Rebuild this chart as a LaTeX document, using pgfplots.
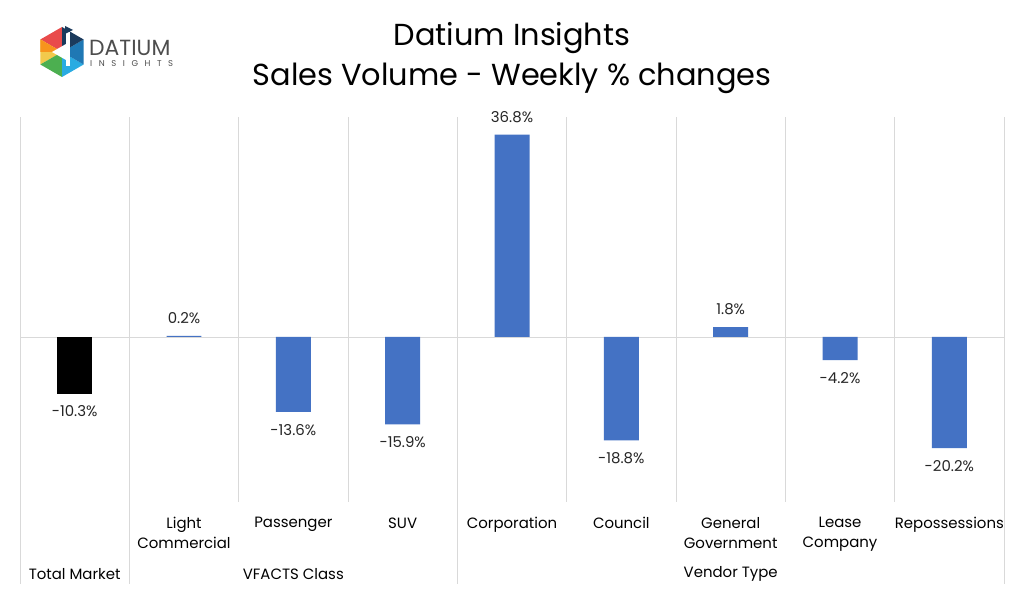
\documentclass[border=0pt]{standalone}
\usepackage{fontspec}
\setmainfont{Poppins}
\usepackage{pgfplots}
\pgfplotsset{compat=1.18}
\definecolor{barblue}{HTML}{4472C4}
\definecolor{gridgray}{HTML}{D9D9D9}
\definecolor{logogray}{HTML}{4D4D4D}
\definecolor{lgA}{HTML}{E94B4B}
\definecolor{lgB}{HTML}{F7941D}
\definecolor{lgC}{HTML}{F2C94C}
\definecolor{lgD}{HTML}{4CAF50}
\definecolor{lgE}{HTML}{29ABE2}
\definecolor{lgF}{HTML}{1F78B4}
\definecolor{lgG}{HTML}{1B3A5C}
\begin{document}
\begin{tikzpicture}[x=1bp,y=1bp]
\path[use as bounding box, fill=white] (0,0) rectangle (1024,594);
% ---- logo ----
\begin{scope}[shift={(62,542)}]
  \fill[lgA] (0,0) -- (90:25) -- (150:25) -- cycle;
  \fill[lgC] (0,0) -- (150:25) -- (210:25) -- cycle;
  \fill[lgB] (0,0) -- (150:25) -- (180:21.6) -- cycle;
  \fill[lgD] (0,0) -- (210:25) -- (270:25) -- cycle;
  \fill[lgE] (0,0) -- (270:25) -- (330:25) -- cycle;
  \fill[lgF] (0,0) -- (330:25) -- (30:25) -- cycle;
  \fill[lgG] (0,0) -- (30:25) -- (90:25) -- cycle;
  \fill[white] (-10,0) -- (4,8) -- (4,-8) -- cycle;
  \fill[white] (4,-14) rectangle (8,20);
  \fill[lgG] (3,26) -- (11,22) -- (3,18) -- cycle;
\end{scope}
\node[anchor=west, inner sep=0pt, text=logogray, font=\fontsize{22}{22}\selectfont] at (89,546) {DATIUM};
\node[anchor=west, inner sep=0pt, text=logogray, font=\fontsize{8.5}{9}\selectfont] at (90,530)
  {\makebox[83bp][s]{I\hfill N\hfill S\hfill I\hfill G\hfill H\hfill T\hfill S}};
% ---- titles ----
\node[font=\fontsize{30.5}{33}\selectfont] at (512,556) {Datium Insights};
\node[font=\fontsize{30.5}{33}\selectfont] at (512,516) {Sales Volume - Weekly \% changes};
% ---- chart ----
\begin{axis}[at={(20bp,92bp)}, anchor=south west, scale only axis,
  width=984bp, height=385bp,
  xmin=-0.5, xmax=8.5, ymin=-30, ymax=40,
  axis line style={draw=none},
  ybar, bar width=0.32, bar shift=0pt,
  xtick={0,...,8},
  xticklabels={{},{Light\\Commercial},Passenger,SUV,Corporation,Council,{General\\Government},{Lease\\Company},Repossessions},
  xticklabel style={align=center, font=\fontsize{15}{20}\selectfont, yshift=-12bp},
  minor xtick={-0.5,0.5,...,8.5},
  xminorgrids=true,
  minor grid style={gridgray, line width=0.8bp},
  ytick={0}, yticklabels={}, ymajorgrids=true,
  major grid style={gridgray, line width=0.8bp},
  major tick length=0pt, minor tick length=0pt,
  clip=false,
  /pgf/number format/assume math mode=true,
  nodes near coords={\pgfmathprintnumber[fixed,fixed zerofill,precision=1]{\pgfplotspointmeta}\%},
  every node near coord/.append style={font=\fontsize{15}{17}\selectfont, text=black!85, inner xsep=2bp, inner ysep=12bp},
]
\addplot[fill=black, draw=none] coordinates {(0,-10.3)};
\addplot[fill=barblue, draw=none] coordinates {(1,0.2) (2,-13.6) (3,-15.9) (4,36.8) (5,-18.8) (6,1.8) (7,-4.2) (8,-20.2)};
\draw[gridgray, line width=0.8bp] (axis cs:-0.5,-30) -- ++(0bp,-82bp);
\draw[gridgray, line width=0.8bp] (axis cs:0.5,-30) -- ++(0bp,-82bp);
\draw[gridgray, line width=0.8bp] (axis cs:3.5,-30) -- ++(0bp,-82bp);
\draw[gridgray, line width=0.8bp] (axis cs:8.5,-30) -- ++(0bp,-82bp);
\node[font=\fontsize{15}{17}\selectfont] at (axis cs:0,-30) [yshift=-72bp] {Total Market};
\node[font=\fontsize{15}{17}\selectfont] at (axis cs:2,-30) [yshift=-72bp] {VFACTS Class};
\node[font=\fontsize{15}{17}\selectfont] at (axis cs:6,-30) [yshift=-72bp] {Vendor Type};
\end{axis}
\end{tikzpicture}
\end{document}
